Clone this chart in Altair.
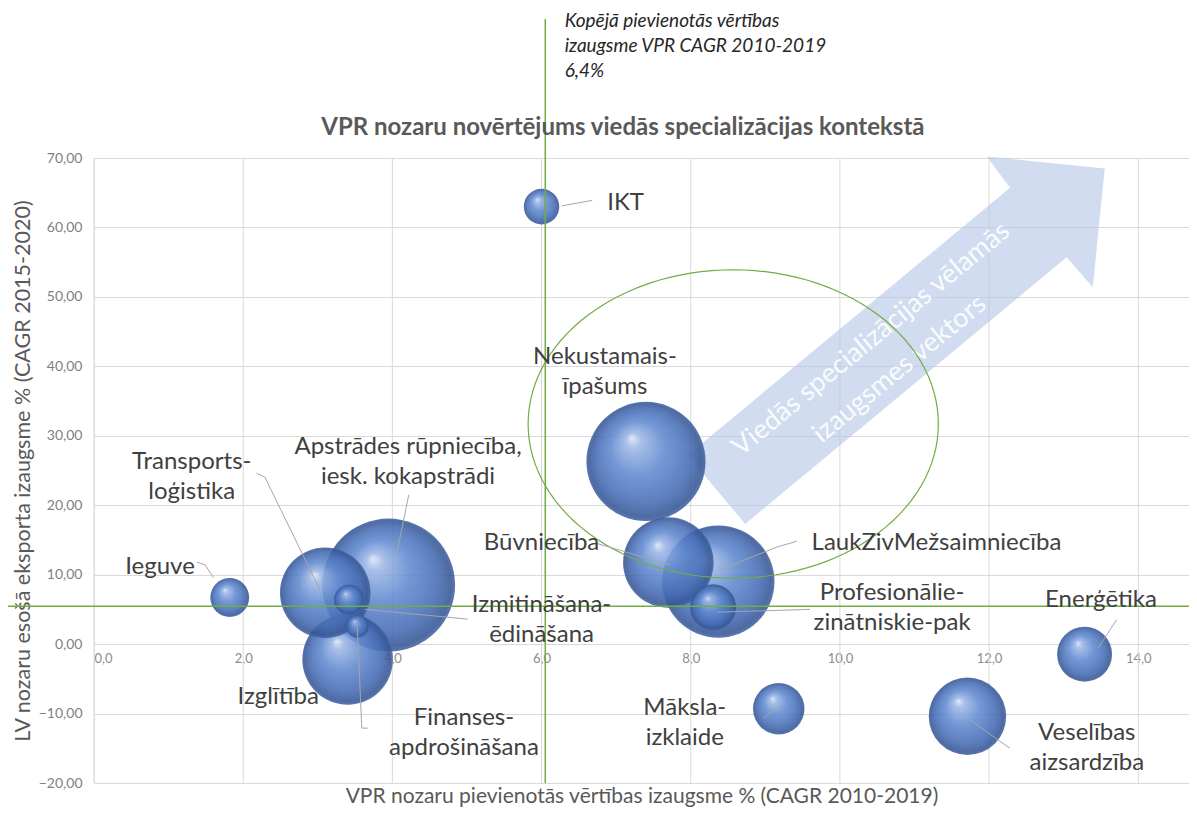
import altair as alt
import pandas as pd
import numpy as np

# ---------------- data ----------------
sectors = ["IKT", "Ieguve", "Transports-loģistika", "Apstrādes rūpniecība", "Izglītība",
           "Izmitināšana-ēdināšana", "Finanses-apdrošināšana", "Nekustamais-īpašums",
           "Būvniecība", "LaukZivMežsaimniecība", "Profesionālie-zinātniskie-pak",
           "Māksla-izklaide", "Veselības aizsardzība", "Enerģētika"]
va_growth = [6.0, 1.82, 3.10, 3.95, 3.40, 3.42, 3.53, 7.40, 7.70, 8.37, 8.30, 9.18, 11.71, 13.28]
export_growth = [63.0, 6.7, 7.4, 8.5, -2.2, 6.4, 2.6, 26.3, 11.75, 9.0, 5.3, -9.3, -10.4, -1.45]
bubble_size = [4.0, 4.8, 26, 56, 26, 2.9, 1.7, 45, 26, 40, 6.8, 8.4, 19, 9.6]

label_text = ["IKT", "Ieguve", "Transports-\nloģistika", "Apstrādes rūpniecība,\niesk. kokapstrādi",
              "Izglītība", "Izmitināšana-\nēdināšana", "Finanses-\napdrošināšana",
              "Nekustamais-\nīpašums", "Būvniecība", "LaukZivMežsaimniecība",
              "Profesionālie-\nzinātniskie-pak", "Māksla-\nizklaide", "Veselības\naizsardzība",
              "Enerģētika"]
label_x = [6.88, 0.885, 1.31, 4.21, 2.47, 6.0, 4.96, 6.85, 6.0, 9.62, 10.7, 7.92, 13.31, 13.5]
label_y = [63.5, 11.1, 26.2, 28.4, -7.6, 5.6, -10.66, 41.3, 14.5, 14.5, 7.3, -9.2, -12.8, 6.3]
label_align = ["left", "center", "center", "center", "center", "center", "center",
               "center", "center", "left", "center", "center", "center", "center"]

# leader lines (polyline id, x, y)
leader_id = [0, 0, 1, 1, 1, 2, 2, 2, 3, 3, 4, 4, 5, 5, 5, 6, 6, 7, 7, 8, 8, 8, 9, 9, 10, 10, 11, 11]
leader_x = [6.27, 6.68, 1.38, 1.49, 1.60, 2.18, 2.29, 3.03, 4.22, 4.06, 6.74, 7.72,
            9.42, 9.16, 8.39, 9.6, 8.35, 5.01, 3.63, 3.53, 3.59, 3.67, 8.97, 9.2,
            13.71, 13.46, 12.28, 11.74]
leader_y = [63.1, 63.9, 11.8, 11.4, 9.6, 24.6, 24.05, 7.8, 21.5, 13.1, 14.5, 11.4,
            14.8, 14.0, 10.7, 5.0, 4.6, 3.6, 5.0, 2.45, -12.1, -12.1, -10.7, -8.8,
            3.5, -0.6, -15.0, -10.9]

x_ticks = [0, 2, 4, 6, 8, 10, 12, 14]
y_ticks = [-20, -10, 0, 10, 20, 30, 40, 50, 60, 70]

# reference lines
ref_x_value = 6.05
ref_y_value = 5.47

# arrow (decorative polygon) and ellipse
arrow_x = [7.96, 12.28, 11.97, 13.55, 13.39, 13.04, 8.73]
arrow_y = [27.2, 65.7, 70.2, 68.5, 51.4, 55.7, 17.3]
ellipse_cx, ellipse_cy, ellipse_rx, ellipse_ry = 8.57, 31.7, 2.75, 22.2

chart_title = "VPR  nozaru novērtējums viedās specializācijas kontekstā"
title_pos = (7.09, 74.3)
annotation = "Kopējā pievienotās vērtības\nizaugsme VPR CAGR 2010-2019\n6,4%"
arrow_lines = ["Viedās specializācijas vēlamās", "izaugsmes vektors"]
arrow_text_x = [10.42, 10.80]
arrow_text_y = [43.9, 39.6]

# ---------------- layout ----------------
W, H = 1095, 625
X_MAX = 14.68
FONT = "Lato"

xs = alt.Scale(domain=[0, X_MAX], nice=False, zero=False)
ys = alt.Scale(domain=[-20, 70], nice=False, zero=False)

x_axis = alt.Axis(values=x_ticks, labelExpr="replace(format(datum.value, '.1f'), '.', ',')",
                  title="VPR nozaru pievienotās vērtības izaugsme % (CAGR 2010-2019)",
                  offset=-(H - H * 70 / 90), domain=False, ticks=False, grid=False,
                  labelFontSize=13, labelColor="#8c8c8c", labelPadding=8, labelFont=FONT,
                  titleY=152, titleBaseline="middle", titleFontSize=21, titleColor="#595959",
                  titleFontWeight="normal", titleFont=FONT)
y_axis = alt.Axis(values=y_ticks, labelExpr="replace(format(datum.value, '.2f'), '.', ',')",
                  title="LV  nozaru esošā eksporta izaugsme % (CAGR 2015-2020)",
                  domain=False, ticks=False, grid=True, gridColor="#d9d9d9", gridWidth=1,
                  labelFontSize=14, labelColor="#7f7f7f", labelPadding=12, labelFont=FONT,
                  titleX=-71, titleBaseline="middle", titleFontSize=21.5, titleColor="#595959",
                  titleFontWeight="normal", titleFont=FONT)


def X(field):
    return alt.X(field, type="quantitative", scale=xs, axis=x_axis)


def Y(field):
    return alt.Y(field, type="quantitative", scale=ys, axis=y_axis)


bubbles = pd.DataFrame({"sector": sectors, "x": va_growth, "y": export_growth, "size": bubble_size})
bubbles = bubbles.sort_values("size", ascending=False).reset_index(drop=True)
labels = pd.DataFrame({"text": label_text, "x": label_x, "y": label_y, "align": label_align})
leaders = pd.DataFrame({"id": leader_id, "x": leader_x, "y": leader_y})
leaders["i"] = range(len(leaders))
grid_df = pd.DataFrame({"x": x_ticks, "y": -20, "y2": 70})
arrow_df = pd.DataFrame({"x": arrow_x, "y": arrow_y, "i": range(len(arrow_x))})
t = np.linspace(0, 2 * np.pi, 121)
ellipse_df = pd.DataFrame({"x": ellipse_cx + ellipse_rx * np.cos(t),
                           "y": ellipse_cy + ellipse_ry * np.sin(t), "i": range(len(t))})

grid = alt.Chart(grid_df).mark_rule(color="#d9d9d9", strokeWidth=1).encode(
    x=X("x"), y=Y("y"), y2="y2")

arrow = alt.Chart(arrow_df).mark_line(fill="#b4c6e7", stroke="#b4c6e7", strokeWidth=0,
                                      opacity=0.62).encode(x=X("x"), y=Y("y"), order="i")

arrow_txt = alt.Chart(pd.DataFrame({"t": arrow_lines, "x": arrow_text_x, "y": arrow_text_y})).mark_text(
    font=FONT, fontSize=27, color="white", opacity=0.9, angle=320.5, align="center",
    baseline="middle").encode(x=X("x"), y=Y("y"), text="t")

bubble_fill = {"gradient": "radial", "x1": 0.38, "y1": 0.3, "r1": 0.0,
               "x2": 0.5, "y2": 0.5, "r2": 0.5,
               "stops": [{"offset": 0, "color": "#dde7f8"},
                         {"offset": 0.13, "color": "#9db7e5"},
                         {"offset": 0.45, "color": "#618ad0"},
                         {"offset": 0.8, "color": "#456bb3"},
                         {"offset": 0.95, "color": "#365694"},
                         {"offset": 1, "color": "#4466a8"}]}

circles = alt.Chart(bubbles).mark_circle(fill=bubble_fill, opacity=0.88, stroke=None).encode(
    x=X("x"), y=Y("y"),
    size=alt.Size("size:Q", scale=alt.Scale(domain=[0, 56], range=[0, np.pi * 75 ** 2]), legend=None))

ellipse = alt.Chart(ellipse_df).mark_line(color="#70ad47", strokeWidth=1.2).encode(
    x=X("x"), y=Y("y"), order="i")

vline = alt.Chart(pd.DataFrame({"x": [ref_x_value], "y": [90.0], "y2": [-20]})).mark_rule(
    color="#70ad47", strokeWidth=1.5).encode(x=X("x"), y=Y("y"), y2="y2")
hline = alt.Chart(pd.DataFrame({"y": [ref_y_value], "x": [-1.26], "x2": [14.79]})).mark_rule(
    color="#70ad47", strokeWidth=1.5).encode(y=Y("y"), x=X("x"), x2="x2")

leader_lines = alt.Chart(leaders).mark_line(color="#a6a6a6", strokeWidth=1).encode(
    x=X("x"), y=Y("y"), detail="id:N", order="i")

lab_layers = []
for al in ["left", "center"]:
    lab_layers.append(
        alt.Chart(labels[labels["align"] == al]).mark_text(
            font=FONT, fontSize=24, color="#404040", align=al, baseline="middle",
            lineBreak="\n", lineHeight=30).encode(x=X("x"), y=Y("y"), text="text"))

annot = alt.Chart(pd.DataFrame({"t": [annotation], "x": [6.31], "y": [91.0]})).mark_text(
    font=FONT, fontSize=19, fontStyle="italic", color="#262626", align="left", baseline="top",
    lineBreak="\n", lineHeight=25).encode(x=X("x"), y=Y("y"), text="t")

title_mark = alt.Chart(pd.DataFrame({"t": [chart_title], "x": [title_pos[0]], "y": [title_pos[1]]})).mark_text(
    font=FONT, fontSize=24, fontWeight="bold", color="#595959", align="center",
    baseline="middle").encode(x=X("x"), y=Y("y"), text="t")

chart = alt.layer(grid, arrow, arrow_txt, circles, ellipse, vline, hline, leader_lines,
                  *lab_layers, annot, title_mark).properties(
    width=W, height=H,
    padding={"left": 86, "top": 150, "right": 0, "bottom": 25},
    autosize=alt.AutoSizeParams(type="none"),
).configure_view(stroke=None).configure(background="white")

chart.save("out.html", embed_options={"renderer": "svg", "actions": False})
